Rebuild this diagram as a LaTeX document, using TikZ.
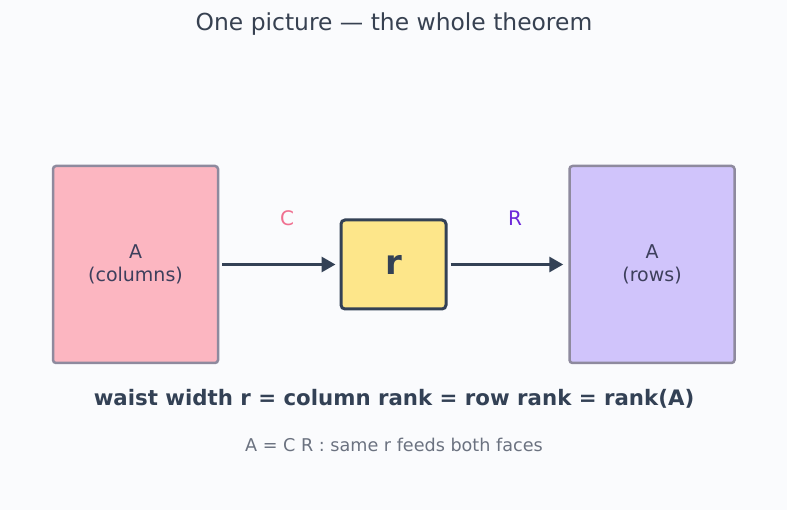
\documentclass[tikz,border=0pt]{standalone}
\usepackage{fontspec}
\setmainfont{DejaVu Sans}
\usetikzlibrary{arrows.meta}
\definecolor{bg}{HTML}{FAFBFD}
\definecolor{ink}{HTML}{334155}
\definecolor{pinkfill}{HTML}{FCB6C1}
\definecolor{purplefill}{HTML}{D0C4FB}
\definecolor{yellowfill}{HTML}{FDE68A}
\definecolor{boxedge}{HTML}{8E8A9E}
\definecolor{boxtext}{HTML}{3D3F5C}
\definecolor{clab}{HTML}{F07090}
\definecolor{rlab}{HTML}{6D28D9}
\definecolor{subtext}{HTML}{6B7280}
\definecolor{titleink}{HTML}{374151}
\tikzset{
  bigbox/.style={draw=boxedge, line width=2.5pt, rounded corners=3pt, minimum width=165pt, minimum height=197pt, text=boxtext, font=\fontsize{19}{22.5}\selectfont, align=center},
  waist/.style={draw=ink, fill=yellowfill, line width=3pt, rounded corners=4pt, minimum width=105pt, minimum height=89pt, text=ink, font=\fontsize{34}{38}\selectfont\bfseries},
  flow/.style={draw=ink, line width=3pt, -{Triangle[length=14pt,width=15pt]}},
  lab/.style={font=\fontsize{20}{24}\selectfont}
}
\begin{document}
\begin{tikzpicture}[x=1pt,y=-1pt]
\fill[bg] (0,0) rectangle (787,510);
\useasboundingbox (0,0) rectangle (787,510);
\node[text=titleink, font=\fontsize{23.4}{28}\selectfont] (title) at (394,24) {One picture — the whole theorem};
\node[bigbox, fill=pinkfill] (cols) at (135.5,264.5) {A\\(columns)};
\node[bigbox, fill=purplefill] (rows) at (652,264.5) {A\\(rows)};
\node[waist] (r) at (393.5,264.5) {r};
\draw[flow] ([xshift=3pt]cols.east) -- ([xshift=-4pt]r.west);
\draw[flow] ([xshift=3pt]r.east) -- ([xshift=-5pt]rows.west);
\node[lab, text=clab] (Clab) at (287,218) {C};
\node[lab, text=rlab] (Rlab) at (515,218) {R};
\node[text=ink, font=\fontsize{21.3}{25}\selectfont\bfseries] (eq) at (394,399) {waist width r = column rank = row rank = rank(A)};
\node[text=subtext, font=\fontsize{17.6}{21}\selectfont] (sub) at (394,445) {A = C R : same r feeds both faces};
\end{tikzpicture}
\end{document}
